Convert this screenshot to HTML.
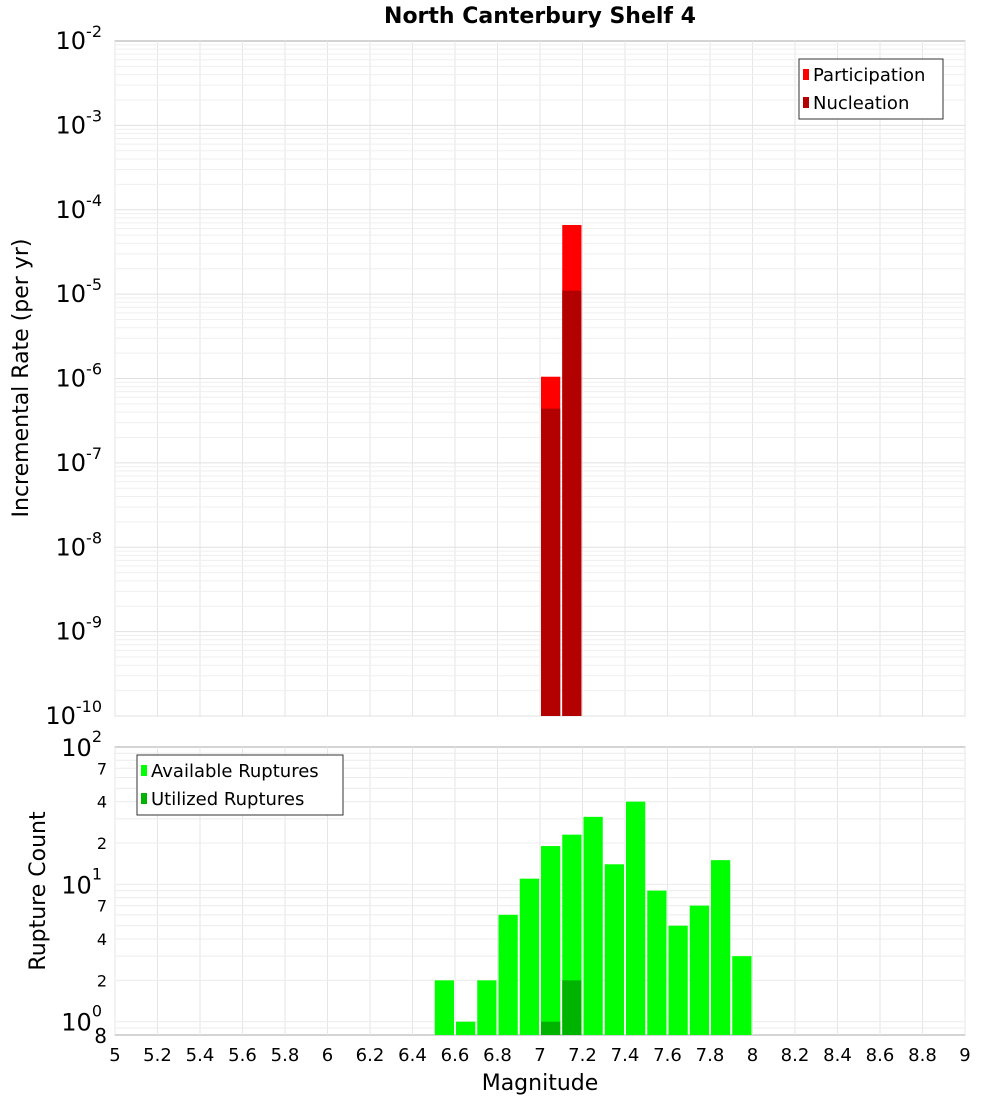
<!DOCTYPE html>
<html><head><meta charset="utf-8"><style>
body{margin:0;background:#fff;font-family:"Liberation Sans","DejaVu Sans",sans-serif}
</style></head><body>
<svg id="c" width="1000" height="1100" xmlns="http://www.w3.org/2000/svg" font-family="DejaVu Sans, Liberation Sans, sans-serif">
<text x="540" y="23" text-anchor="middle" font-size="22" font-weight="bold">North Canterbury Shelf 4</text>
<g id="topG"></g><g id="botG"></g>
<text transform="translate(28,378) rotate(-90)" text-anchor="middle" font-size="22">Incremental Rate (per yr)</text>
<text transform="translate(45,891) rotate(-90)" text-anchor="middle" font-size="22">Rupture Count</text>
<text x="540" y="1090" text-anchor="middle" font-size="22">Magnitude</text>
</svg>
<script>
const binCenters=[7.05,7.15];
const participation=[1.05e-6,6.6e-5];
const nucleation=[4.4e-7,1.1e-5];
const countBins=[6.55,6.65,6.75,6.85,6.95,7.05,7.15,7.25,7.35,7.45,7.55,7.65,7.75,7.85,7.95];
const available=[2,1,2,6,11,19,23,31,14,40,9,5,7,15,3];
const utilizedBins=[7.05,7.15];
const utilized=[1,2];
const xTicks=[5,5.2,5.4,5.6,5.8,6,6.2,6.4,6.6,6.8,7,7.2,7.4,7.6,7.8,8,8.2,8.4,8.6,8.8,9];
const topDecades=[-2,-3,-4,-5,-6,-7,-8,-9,-10];
const botMinor=[2,4,7];

const NS="http://www.w3.org/2000/svg";
const X0=115,X1=965;
const x=v=>X0+(v-5)/4*(X1-X0);
const T0=41,T1=716;
const yT=v=>T0+(-2-Math.log10(v))/8*(T1-T0);
const B0=747,B1=1035;
const yB=v=>B0+(2-Math.log10(v))/(2+0.09691)*(B1-B0);
function el(p,t,a,txt){const e=document.createElementNS(NS,t);for(const k in a)e.setAttribute(k,a[k]);if(txt!==undefined)e.textContent=txt;p.appendChild(e);return e;}
const topG=document.getElementById('topG'),botG=document.getElementById('botG');

function frame(g,y0,y1,name){
  const r=el(g,'rect',{x:X0,y:y0,width:X1-X0,height:y1-y0,fill:'#fff',stroke:'#aaa'});
  
  
  xTicks.forEach(t=>{el(g,'line',{x1:x(t),x2:x(t),y1:y0,y2:y1,stroke:'#e6e6e6'});});
}
frame(topG,T0,T1,'top-plot-area');
frame(botG,B0,B1,'bottom-plot-area');
for(let d=-10;d<-2;d++){for(let m=1;m<10;m++){const v=m*Math.pow(10,d);el(topG,'line',{x1:X0,x2:X1,y1:yT(v),y2:yT(v),stroke:m==1?'#e0e0e0':'#efefef'});}}
topDecades.forEach(d=>{const g=el(topG,'text',{x:102,y:yT(Math.pow(10,d))+8,'text-anchor':'end','font-size':24});
  
  
  el(g,'tspan',{},'10');el(g,'tspan',{dy:-12,'font-size':16},String(d));});
[1,10].forEach(b=>{for(let m=1;m<10;m++){const v=m*b;el(botG,'line',{x1:X0,x2:X1,y1:yB(v),y2:yB(v),stroke:'#ececec'});}});
el(botG,'line',{x1:X0,x2:X1,y1:yB(0.9),y2:yB(0.9),stroke:'#ececec'});
[[1,'0'],[10,'1'],[100,'2']].forEach(([v,e])=>{const g=el(botG,'text',{x:102,y:yB(v)+9,'text-anchor':'end','font-size':24});
  
  
  el(g,'tspan',{},'10');el(g,'tspan',{dy:-14,'font-size':16},e);});
[1,10].forEach(b=>botMinor.forEach(m=>{const t=el(botG,'text',{x:107,y:yB(m*b)+6,'text-anchor':'end','font-size':16},String(m));
  
  }));
{const t=el(botG,'text',{x:107,y:B1+8,'text-anchor':'end','font-size':20},'8');

}
xTicks.forEach(t=>{const e=el(botG,'text',{x:x(t),y:1061,'text-anchor':'middle','font-size':18},String(t));
  
  });
const bw=0.1;
binCenters.forEach((c,i)=>{
  const r=el(topG,'rect',{x:x(c-bw/2)+1,y:yT(participation[i]),width:x(bw+5)-X0-2,height:T1-yT(participation[i]),fill:'#ff0000'});
  
  
  const n=el(topG,'rect',{x:x(c-bw/2)+1,y:yT(nucleation[i]),width:x(bw+5)-X0-2,height:T1-yT(nucleation[i]),fill:'#b30000'});
  
  
});
countBins.forEach((c,i)=>{
  const r=el(botG,'rect',{x:x(c-bw/2)+1,y:yB(available[i]),width:x(bw+5)-X0-2,height:B1-yB(available[i]),fill:'#00ff00'});
  
  
});
utilizedBins.forEach((c,i)=>{
  const r=el(botG,'rect',{x:x(c-bw/2)+1,y:yB(utilized[i]),width:x(bw+5)-X0-2,height:B1-yB(utilized[i]),fill:'#00b300'});
  
  
});
function legend(g,lx,ly,w,items,name){
  const bx=el(g,'g',{});
  
  
  el(bx,'rect',{x:lx,y:ly,width:w,height:items.length*28+4,fill:'#fff',stroke:'#333'});
  items.forEach(([c,t],i)=>{
    el(bx,'rect',{x:lx+4,y:ly+10+i*28,width:6,height:11,fill:c});
    const e=el(bx,'text',{x:lx+14,y:ly+22+i*28,'font-size':18},t);
    
    
  });
}
legend(topG,799,59,144,[['#ff0000','Participation'],['#b30000','Nucleation']],'top-legend');
legend(botG,137,755,206,[['#00ff00','Available Ruptures'],['#00b300','Utilized Ruptures']],'bottom-legend');
</script>
</body></html>
